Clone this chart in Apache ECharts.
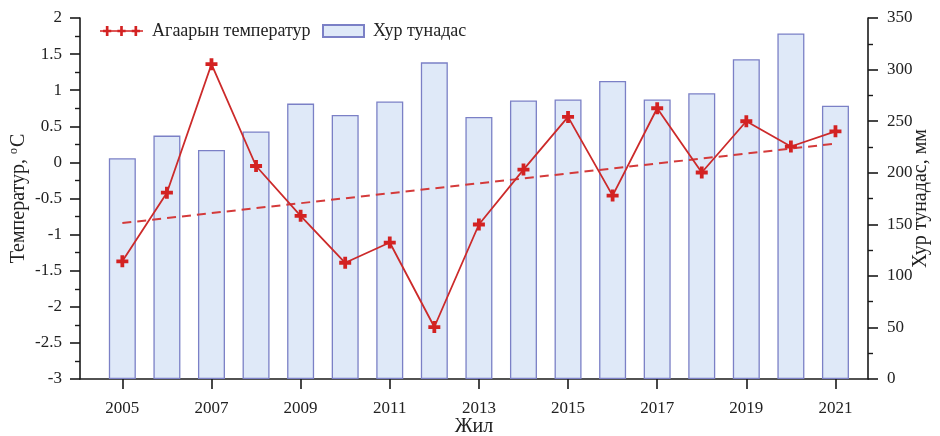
<!DOCTYPE html>
<html>
<head>
<meta charset="utf-8">
<script src="https://cdn.jsdelivr.net/npm/echarts@6/dist/echarts.min.js"></script>
<style>
html,body{margin:0;padding:0;background:#fff;}
#c{width:940px;height:436px;}
</style>
</head>
<body>
<div id="c"></div>
<script>
var years = [2005,2006,2007,2008,2009,2010,2011,2012,2013,2014,2015,2016,2017,2018,2019,2020,2021];
var temperature = [-1.37,-0.42,1.36,-0.05,-0.74,-1.39,-1.11,-2.28,-0.86,-0.1,0.63,-0.46,0.75,-0.14,0.57,0.22,0.43];
var precipitation = [214,236,222,240,267,256,269,307,254,270,271,289,271,277,310,335,265];
var trendYears = [2005,2021];
var trendValues = [-0.84,0.26];
var xTickYears = [2005,2007,2009,2011,2013,2015,2017,2019,2021];

var FONT = '"Liberation Serif","Times New Roman",serif';
var RED = '#d32222';
var plusPath = 'path://M-1.1,-3.5H1.1V-1.1H3.5V1.1H1.1V3.5H-1.1V1.1H-3.5V-1.1H-1.1Z';
var legendLinePath = 'path://M0,4.3H42V5.7H0Z M5.7,0H8.3V3.7H11V6.3H8.3V10H5.7V6.3H3V3.7H5.7Z M19.7,0H22.3V3.7H25V6.3H22.3V10H19.7V6.3H17V3.7H19.7Z M33.7,0H36.3V3.7H39V6.3H36.3V10H33.7V6.3H31V3.7H33.7Z';

var tempData = years.map(function(y,i){return [y, temperature[i]];});
var precData = years.map(function(y,i){return [y, precipitation[i]];});
var trendData = trendYears.map(function(y,i){return [y, trendValues[i]];});

var chart = echarts.init(document.getElementById('c'));
var axisCommon = {
  axisLine:{show:true, lineStyle:{color:'#1a1a1a', width:1.6}},
  axisTick:{show:true, length:10, lineStyle:{color:'#1a1a1a', width:1.6}},
  minorTick:{show:true, splitNumber:2, length:5, lineStyle:{color:'#1a1a1a', width:1.4}},
  splitLine:{show:false},
  nameMoveOverlap:false
};
chart.setOption({
  backgroundColor:'#fff',
  animation:false,
  grid:{left:80, right:72, top:18, bottom:57, containLabel:false, outerBoundsMode:'none'},
  legend:[{
    left:95, top:17, itemWidth:43, itemHeight:11,
    textStyle:{fontFamily:FONT, fontSize:18, color:'#222', padding:[0,0,0,4]},
    data:[{name:'Агаарын температур', icon:legendLinePath, itemStyle:{color:RED}}]
  },{
    left:317, top:17, itemWidth:41, itemHeight:12,
    textStyle:{fontFamily:FONT, fontSize:18, color:'#222', padding:[0,0,0,4]},
    data:[{name:'Хур тунадас', icon:'rect'}]
  }],
  xAxis:{
    type:'value', min:2004.05, max:2021.73,
    name:'Жил', nameLocation:'middle', nameGap:38, nameMoveOverlap:false,
    nameTextStyle:{color:'#222', fontFamily:FONT, fontSize:20},
    axisLine:{show:true, onZero:false, lineStyle:{color:'#1a1a1a', width:1.6}},
    axisTick:{show:true, length:10, customValues:xTickYears, lineStyle:{color:'#1a1a1a', width:1.6}},
    axisLabel:{customValues:xTickYears, color:'#222', fontFamily:FONT, fontSize:17, margin:21,
      formatter:function(v){return String(Math.round(v));}},
    splitLine:{show:false}
  },
  yAxis:[Object.assign({}, axisCommon, {
    type:'value', min:-3, max:2, interval:0.5, position:'left',
    name:'Температур, {s|o}C', nameLocation:'middle', nameGap:50, nameRotate:90,
    nameTextStyle:{color:'#222', fontFamily:FONT, fontSize:20, rich:{s:{fontFamily:FONT, fontSize:12, padding:[0,1,10,0], color:'#222'}}},
    axisLabel:{color:'#222', fontFamily:FONT, fontSize:17, margin:18}
  }), Object.assign({}, axisCommon, {
    type:'value', min:0, max:350, interval:50, position:'right',
    name:'Хур тунадас, мм', nameLocation:'middle', nameGap:43, nameRotate:90,
    nameTextStyle:{color:'#222', fontFamily:FONT, fontSize:20},
    axisLabel:{color:'#222', fontFamily:FONT, fontSize:17, margin:19}
  })],
  series:[{
    name:'Хур тунадас', type:'bar', yAxisIndex:1, barWidth:27,
    data:precData,
    itemStyle:{color:'#dfe9f8', borderColor:'#7b80c6', borderWidth:1.3},
    z:1
  },{
    name:'trend', type:'line', yAxisIndex:0, data:trendData,
    symbol:'none', lineStyle:{color:'#d43a3a', width:2, type:[9,6]}, z:3
  },{
    name:'Агаарын температур', type:'line', yAxisIndex:0, data:tempData,
    symbol:plusPath, symbolSize:12,
    itemStyle:{color:RED}, lineStyle:{color:'#cc2a2a', width:1.8}, z:4
  }]
});
</script>
</body>
</html>
